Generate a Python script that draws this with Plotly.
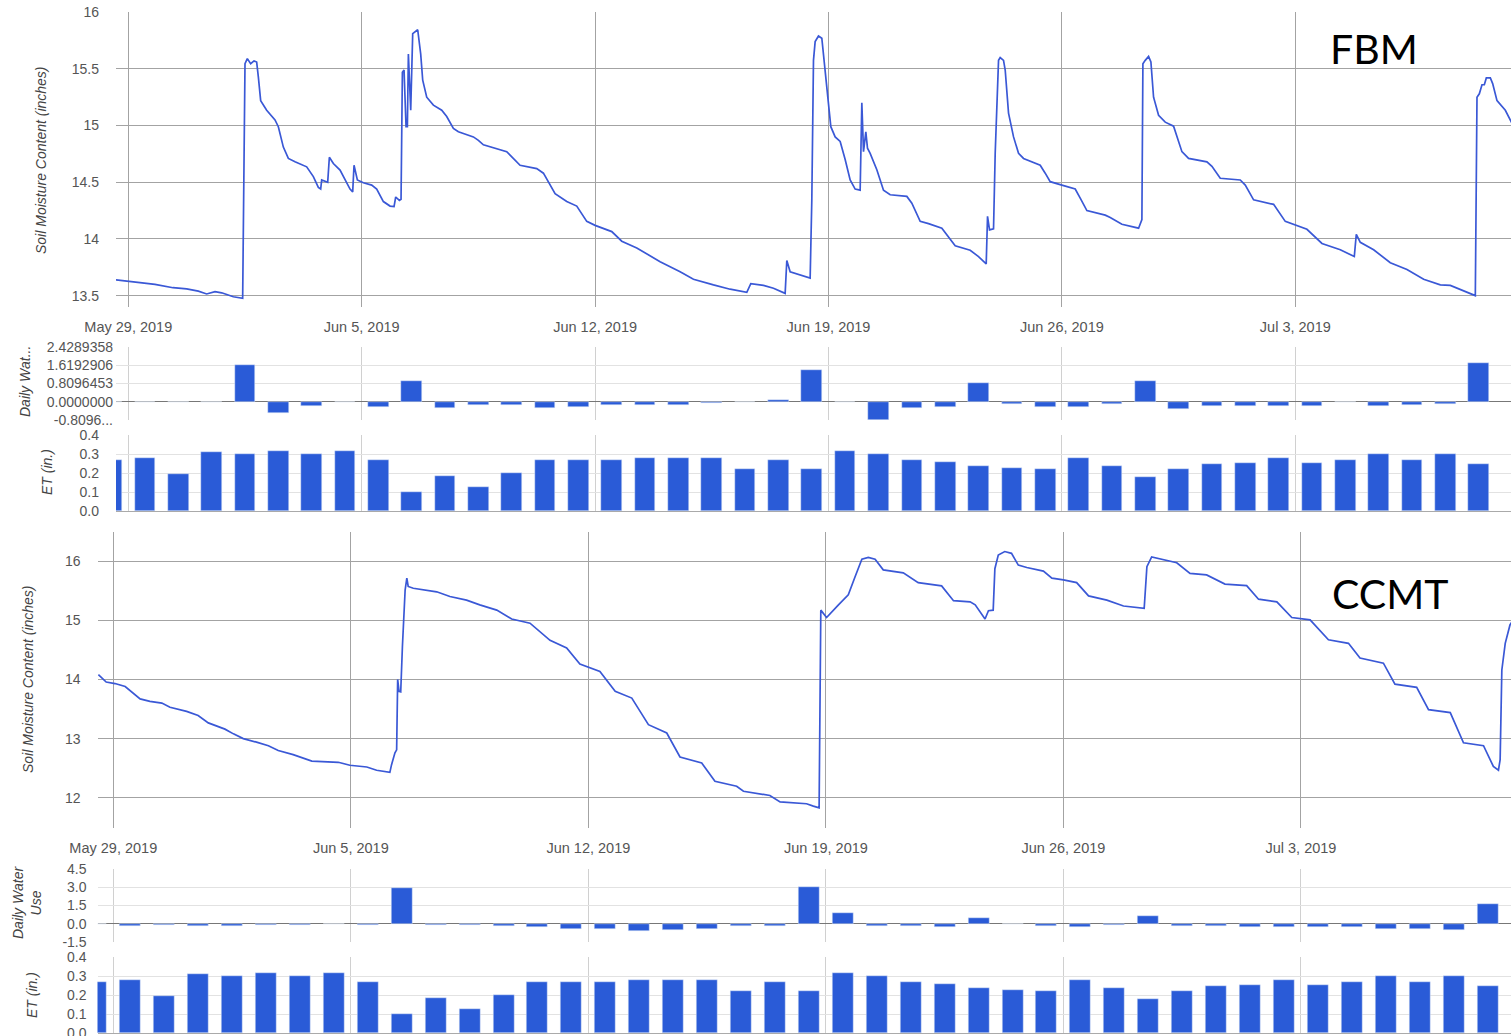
import plotly.graph_objects as go
import pandas as pd

# ---------------- data ----------------
START = pd.Timestamp("2019-05-29")

# FBM soil moisture: (days after May 29 2019 00:00, inches)
fbm_day = [-0.37, 0.0, 0.35, 0.8, 1.34, 1.75, 2.1, 2.35, 2.6, 2.8, 3.15, 3.43, 3.5, 3.57, 3.67, 3.77, 3.85,
           3.9, 3.97, 4.15, 4.4, 4.5, 4.65, 4.8, 5.0, 5.35, 5.55, 5.7, 5.77, 5.8, 5.98, 6.03, 6.15, 6.35,
           6.5, 6.65, 6.73, 6.77, 6.87, 7.05, 7.3, 7.45, 7.65, 7.85, 7.97, 8.02, 8.13, 8.18, 8.22, 8.27,
           8.33, 8.37, 8.4, 8.47, 8.53, 8.63, 8.68, 8.77, 8.83, 8.95, 9.15, 9.4, 9.55, 9.75, 9.9, 10.35,
           10.5, 10.65, 11.15, 11.35, 11.75, 12.25, 12.45, 12.8, 13.15, 13.45, 13.75, 14.0, 14.5, 14.8,
           15.25, 15.55, 15.95, 16.55, 16.95, 17.55, 18.05, 18.55, 18.67, 19.05, 19.35, 19.7, 19.75,
           19.85, 20.15, 20.45, 20.5, 20.55, 20.6, 20.7, 20.8, 20.85, 20.95, 21.07, 21.2, 21.35, 21.5,
           21.65, 21.8, 21.95, 22.0, 22.05, 22.12, 22.17, 22.25, 22.45, 22.65, 22.85, 23.35, 23.5, 23.75,
           24.0, 24.4, 24.8, 25.25, 25.5, 25.73, 25.77, 25.83, 25.95, 26.0, 26.1, 26.15, 26.25, 26.3,
           26.4, 26.55, 26.7, 26.85, 27.35, 27.5, 27.65, 28.0, 28.4, 28.55, 28.75, 29.3, 29.45, 29.8,
           30.3, 30.4, 30.43, 30.5, 30.6, 30.67, 30.75, 30.9, 31.1, 31.35, 31.6, 31.8, 32.35, 32.5,
           32.75, 33.35, 33.5, 33.75, 34.35, 34.7, 35.0, 35.35, 35.8, 36.35, 36.77, 36.83, 36.95, 37.35,
           37.85, 38.35, 38.85, 39.35, 39.65, 40.4, 40.45, 40.52, 40.6, 40.67, 40.73, 40.85, 40.92,
           41.05, 41.3, 41.5]
fbm_moisture = [13.64, 13.63, 13.615, 13.60, 13.57, 13.56, 13.54, 13.515, 13.535, 13.525, 13.49, 13.477,
                15.545, 15.59, 15.545, 15.57, 15.56, 15.43, 15.22, 15.135, 15.05, 14.99, 14.81, 14.71,
                14.68, 14.636, 14.55, 14.455, 14.44, 14.52, 14.50, 14.72, 14.665, 14.607, 14.52, 14.44,
                14.415, 14.65, 14.52, 14.495, 14.475, 14.44, 14.33, 14.29, 14.285, 14.37, 14.34, 14.35,
                15.47, 15.49, 14.99, 14.99, 15.63, 15.135, 15.81, 15.83, 15.845, 15.63, 15.40, 15.25,
                15.18, 15.135, 15.08, 14.975, 14.945, 14.90, 14.87, 14.83, 14.79, 14.77, 14.65, 14.62,
                14.58, 14.40, 14.33, 14.29, 14.155, 14.12, 14.065, 13.98, 13.92, 13.87, 13.80, 13.71,
                13.645, 13.595, 13.557, 13.53, 13.605, 13.59, 13.565, 13.52, 13.81, 13.71, 13.68, 13.655,
                14.345, 15.575, 15.74, 15.79, 15.77, 15.635, 15.31, 14.99, 14.90, 14.86, 14.70, 14.52,
                14.44, 14.43, 15.20, 14.77, 14.945, 14.80, 14.755, 14.61, 14.43, 14.39, 14.375, 14.315,
                14.155, 14.135, 14.095, 13.94, 13.90, 13.845, 13.78, 14.20, 14.08, 14.09, 14.755, 15.575,
                15.60, 15.575, 15.49, 15.11, 14.90, 14.755, 14.71, 14.65, 14.58, 14.505, 14.475, 14.44,
                14.36, 14.25, 14.21, 14.19, 14.13, 14.095, 14.17, 15.545, 15.575, 15.61, 15.56, 15.25,
                15.09, 15.03, 14.995, 14.77, 14.71, 14.68, 14.64, 14.535, 14.52, 14.475, 14.345, 14.305,
                14.155, 14.125, 14.085, 13.96, 13.905, 13.845, 14.04, 13.97, 13.905, 13.79, 13.73, 13.645,
                13.595, 13.59, 13.50, 15.25, 15.28, 15.36, 15.36, 15.42, 15.42, 15.37, 15.22, 15.135,
                15.02]

# CCMT soil moisture
ccmt_day = [-0.44, -0.21, 0.05, 0.35, 0.79, 1.08, 1.43, 1.67, 2.16, 2.5, 2.8, 3.29, 3.54, 3.83, 4.22,
            4.57, 4.86, 5.3, 5.85, 6.63, 6.97, 7.47, 7.76, 8.15, 8.2, 8.3, 8.35, 8.38, 8.42, 8.47, 8.52,
            8.6, 8.65, 8.69, 8.84, 9.14, 9.53, 9.92, 10.41, 10.8, 11.3, 11.74, 12.28, 12.87, 13.36,
            13.75, 14.34, 14.79, 15.28, 15.77, 16.31, 16.7, 17.34, 17.73, 18.37, 18.57, 19.35, 19.65,
            20.43, 20.63, 20.8, 20.85, 21.02, 21.37, 21.66, 21.86, 22.06, 22.25, 22.45, 22.69, 23.28,
            23.72, 24.41, 24.76, 25.25, 25.4, 25.69, 25.79, 25.93, 25.98, 26.08, 26.27, 26.47, 26.67,
            26.92, 27.41, 27.66, 28.0, 28.39, 28.74, 29.28, 29.77, 30.38, 30.46, 30.6, 31.34, 31.73,
            32.22, 32.76, 33.4, 33.75, 34.29, 34.73, 35.27, 35.81, 36.4, 36.74, 37.43, 37.77, 38.41,
            38.76, 39.4, 39.79, 40.38, 40.67, 40.82, 40.87, 40.92, 41.02, 41.16, 41.25]
ccmt_moisture = [14.08, 13.955, 13.93, 13.88, 13.67, 13.63, 13.60, 13.53, 13.46, 13.39, 13.265, 13.16,
                 13.08, 13.0, 12.94, 12.88, 12.80, 12.73, 12.62, 12.60, 12.55, 12.52, 12.465, 12.43,
                 12.56, 12.76, 12.81, 14.0, 13.80, 13.79, 14.555, 15.51, 15.71, 15.57, 15.54, 15.51,
                 15.48, 15.40, 15.34, 15.26, 15.17, 15.02, 14.95, 14.66, 14.53, 14.26, 14.135, 13.80,
                 13.685, 13.235, 13.095, 12.69, 12.59, 12.28, 12.195, 12.11, 12.04, 11.93, 11.90, 11.86,
                 11.83, 15.17, 15.045, 15.26, 15.43, 15.735, 16.03, 16.06, 16.03, 15.85, 15.80, 15.635,
                 15.58, 15.33, 15.31, 15.26, 15.02, 15.16, 15.17, 15.87, 16.10, 16.16, 16.13, 15.93,
                 15.89, 15.83, 15.71, 15.68, 15.635, 15.41, 15.34, 15.24, 15.20, 15.905, 16.07, 15.97,
                 15.79, 15.765, 15.61, 15.585, 15.355, 15.31, 15.045, 15.005, 14.67, 14.61, 14.36,
                 14.275, 13.92, 13.865, 13.49, 13.44, 12.93, 12.88, 12.53, 12.465, 12.645, 14.16, 14.61,
                 14.92, 15.0]

# daily bars (one per day, May 28 .. Jul 8 2019, centred at noon)
bar_dates = pd.date_range("2019-05-28 12:00", "2019-07-08 12:00", freq="D")
fbm_water_use = [0, -0.02, -0.02, -0.02, 1.65, -0.51, -0.18, 0, -0.22, 0.93, -0.29, -0.15, -0.15, -0.26,
                 -0.22, -0.15, -0.15, -0.15, -0.07, 0, 0.07, 1.43, 0, -0.81, -0.26, -0.22, 0.81, -0.1,
                 -0.25, -0.22, -0.1, 0.93, -0.34, -0.19, -0.19, -0.19, -0.19, 0, -0.19, -0.15, -0.1, 1.70]
ccmt_water_use = [0, -0.2, -0.12, -0.2, -0.2, -0.13, -0.13, 0, -0.08, 2.97, -0.13, -0.13, -0.2, -0.24,
                  -0.4, -0.4, -0.58, -0.5, -0.4, -0.15, -0.15, 3.02, 0.86, -0.15, -0.15, -0.25, 0.49, 0,
                  -0.15, -0.25, -0.13, 0.67, -0.15, -0.15, -0.25, -0.25, -0.3, -0.3, -0.4, -0.4, -0.55, 1.62]
et_inches = [0.268, 0.277, 0.195, 0.309, 0.30, 0.317, 0.30, 0.317, 0.268, 0.10, 0.184, 0.128, 0.198,
             0.268, 0.268, 0.268, 0.277, 0.277, 0.277, 0.219, 0.268, 0.219, 0.317, 0.30, 0.268, 0.256,
             0.237, 0.228, 0.219, 0.277, 0.237, 0.177, 0.219, 0.246, 0.253, 0.277, 0.253, 0.268, 0.302,
             0.268, 0.302, 0.246]

fbm_wu_tickvals = [-0.8096453, 0.0, 0.8096453, 1.6192906, 2.4289358]
fbm_wu_ticktext = ["-0.8096...", "0.0000000", "0.8096453", "1.6192906", "2.4289358"]
ccmt_wu_tickvals = [-1.5, 0.0, 1.5, 3.0, 4.5]
ccmt_wu_ticktext = ["-1.5", "0.0", "1.5", "3.0", "4.5"]

# ---------------- styling / layout ----------------
W, H = 1511, 1036
DAY_MS = 86400000
LINE_C = "#3a58d6"
BAR_C = "#2a5bd7"
FONT = "Liberation Sans, Arial, sans-serif"
TICK_C = "#555555"


def ts(days):
    return START + pd.to_timedelta(days, unit="D")


def fx(p):
    return p / W


def fy(p):
    return 1 - p / H


fig = go.Figure()

fig.add_trace(go.Scatter(x=[ts(d) for d in fbm_day], y=fbm_moisture, mode="lines",
                         line=dict(color=LINE_C, width=1.7), xaxis="x", yaxis="y", showlegend=False))
fig.add_trace(go.Bar(x=bar_dates, y=fbm_water_use, marker_color=BAR_C, width=0.62 * DAY_MS,
                     xaxis="x2", yaxis="y2", showlegend=False))
fig.add_trace(go.Bar(x=bar_dates, y=et_inches, marker_color=BAR_C, width=0.62 * DAY_MS,
                     xaxis="x3", yaxis="y3", showlegend=False))
fig.add_trace(go.Scatter(x=[ts(d) for d in ccmt_day], y=ccmt_moisture, mode="lines",
                         line=dict(color=LINE_C, width=1.7), xaxis="x4", yaxis="y4", showlegend=False))
fig.add_trace(go.Bar(x=bar_dates, y=ccmt_water_use, marker_color=BAR_C, width=0.62 * DAY_MS,
                     xaxis="x5", yaxis="y5", showlegend=False))
fig.add_trace(go.Bar(x=bar_dates, y=et_inches, marker_color=BAR_C, width=0.62 * DAY_MS,
                     xaxis="x6", yaxis="y6", showlegend=False))

top_range = [ts(-0.369), ts(41.47)]
bot_range = [ts(-0.466), ts(41.19)]
tickfont = dict(family=FONT, size=14, color=TICK_C)


def xax(domain, rng, anchor, labels, gridcolor, showline=False):
    return dict(domain=domain, range=rng, type="date", anchor=anchor, tick0="2019-05-29",
                dtick=7 * DAY_MS, tickformat="%b %-d, %Y", showticklabels=labels,
                showgrid=True, gridcolor=gridcolor, gridwidth=1, zeroline=False,
                showline=showline, linecolor="#aaaaaa", linewidth=1, automargin=False,
                ticks="", tickfont=dict(family=FONT, size=14.5, color=TICK_C),
                ticklabelstandoff=9, fixedrange=True)


def yax(domain, rng, anchor, gridcolor, standoff, **kw):
    d = dict(domain=domain, range=rng, anchor=anchor, showgrid=True, gridcolor=gridcolor,
             gridwidth=1, ticks="", tickfont=tickfont, ticklabelstandoff=standoff,
             showline=False, fixedrange=True, automargin=False, ticklabeloverflow="allow")
    d.update(kw)
    return d


TL, BL = 116, 97.5
GRID_DARK = "#a3a3a3"
GRID_LIGHT = "#e2e2e2"
VGRID_LIGHT = "#d0d0d0"

fig.update_layout(
    width=W, height=H, autosize=False, margin=dict(l=0, r=0, t=0, b=0, pad=0, autoexpand=False),
    paper_bgcolor="white", plot_bgcolor="white", bargap=0,
    xaxis=xax([fx(TL), 1], top_range, "y", True, GRID_DARK),
    yaxis=yax([fy(307), fy(11.7)], [13.4, 16.004], "x", GRID_DARK, 16,
              tick0=13.5, dtick=0.5, zeroline=False),
    xaxis2=xax([fx(TL), 1], top_range, "y2", False, VGRID_LIGHT),
    yaxis2=yax([fy(420), fy(347)], [-0.8096453, 2.4289358], "x2", GRID_LIGHT, 2,
               tickvals=fbm_wu_tickvals, ticktext=fbm_wu_ticktext, zeroline=True,
               zerolinecolor="#777777", zerolinewidth=1.2),
    xaxis3=xax([fx(TL), 1], top_range, "y3", False, VGRID_LIGHT, showline=True),
    yaxis3=yax([fy(511), fy(435)], [0, 0.4], "x3", GRID_LIGHT, 16,
               tick0=0, dtick=0.1, tickformat=".1f", zeroline=False),
    xaxis4=xax([fx(BL), 1], bot_range, "y4", True, GRID_DARK),
    yaxis4=yax([fy(828), fy(532)], [11.49, 16.49], "x4", GRID_DARK, 16,
               tick0=12, dtick=1, zeroline=False),
    xaxis5=xax([fx(BL), 1], bot_range, "y5", False, VGRID_LIGHT),
    yaxis5=yax([fy(942), fy(869)], [-1.5, 4.5], "x5", GRID_LIGHT, 10,
               tickvals=ccmt_wu_tickvals, ticktext=ccmt_wu_ticktext, zeroline=True,
               zerolinecolor="#777777", zerolinewidth=1.2),
    xaxis6=xax([fx(BL), 1], bot_range, "y6", False, VGRID_LIGHT, showline=True),
    yaxis6=yax([fy(1033), fy(957)], [0, 0.4], "x6", GRID_LIGHT, 10,
               tick0=0, dtick=0.1, tickformat=".1f", zeroline=False),
)

title_font = dict(family=FONT, size=14, color="#444444", style="italic")


def ytitle(text, xp, yp):
    fig.add_annotation(text=text, xref="paper", yref="paper", x=fx(xp), y=fy(yp),
                       xanchor="center", yanchor="middle", textangle=-90, showarrow=False,
                       font=title_font)


ytitle("Soil Moisture Content (inches)", 41, 160)
ytitle("Daily Wat...", 25, 382)
ytitle("ET (in.)", 47, 472)
ytitle("Soil Moisture Content (inches)", 28, 679)
ytitle("Daily Water<br>Use", 27, 902)
ytitle("ET (in.)", 32, 995)

label_font = dict(family="Lato, Open Sans, sans-serif", size=41, color="black")
fig.add_annotation(text="FBM", xref="paper", yref="paper", x=fx(1374), y=fy(48),
                   xanchor="center", yanchor="middle", showarrow=False, font=label_font)
fig.add_annotation(text="CCMT", xref="paper", yref="paper", x=fx(1390), y=fy(593),
                   xanchor="center", yanchor="middle", showarrow=False, font=label_font)

fig.write_html("out.html", config={"responsive": False, "displayModeBar": False},
               post_script="document.body.style.margin='0';document.body.style.overflow='hidden';")
